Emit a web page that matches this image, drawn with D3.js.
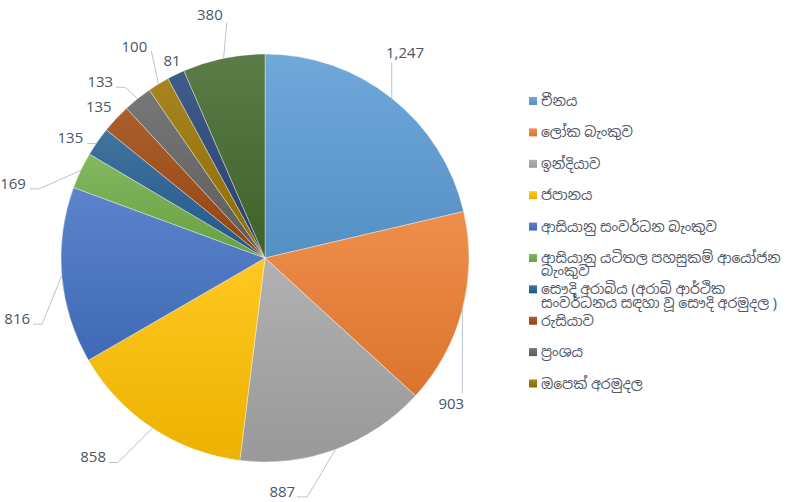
<!DOCTYPE html>
<meta charset="utf-8">
<script src="https://d3js.org/d3.v7.min.js"></script>
<style>
  body { margin: 0; background: #fff; }
</style>
<div id="d3chart"></div>
<script>
    // legend labels (only the first ten appear in the legend)
    var categories = ["චීනය", "ලෝක බැංකුව", "ඉන්දියාව", "ජපානය",
        "ආසියානු සංවර්ධන බැංකුව", "ආසියානු යටිතල පහසුකම් ආයෝජන බැංකුව",
        "සෞදි අරාබිය (අරාබි ආර්ථික සංවර්ධනය සඳහා වූ සෞදි අරමුදල )",
        "රුසියාව", "ප්‍රංශය", "ඔපෙක් අරමුදල"];
    // words kept on the first legend line (0 = no wrap)
    var legendBreaks = [0, 0, 0, 0, 0, 4, 4, 0, 0, 0];
    // slice values, clockwise from 12 o'clock
    var values = [1247, 903, 887, 858, 816, 169, 135, 135, 133, 100, 81, 380];
    var colors = ["#5B9BD5", "#ED7D31", "#A5A5A5", "#FFC000", "#4472C4", "#70AD47",
        "#255E91", "#9E480E", "#636363", "#997300", "#264478", "#43682B"];

    // label placement relative to the slice edge: [dx, dy, anchor, leader]
    var labelLayout = [
        [13.3, -39.8, "middle", [-13.3, 4, 0]],
        [-11.1, 99.6, "middle", [11.1, -16, 0]],
        [-40.4, 47.5, "end", [2, 0, 10]],
        [-46.4, 34.4, "end", [3, 0, 9]],
        [-31.7, 48.6, "end", [3, 0, 9]],
        [-54.8, 18.5, "end", [4, 0, 9]],
        [-14.2, 1.8, "end", [4, 0, 9]],
        [-4.4, -6.8, "end", null],
        [-24.4, -11.4, "end", [3, 0, 9]],
        [-11.2, -32.3, "end", [4, -1, 0]],
        [-3.9, -8.5, "middle", null],
        [-0.9, -38.3, "end", [4, 3, 0]]
    ];

    var width = 787, height = 502;
    var cx = 265, cy = 258, radius = 204;

    var svg = d3.select("#d3chart")
        .append("svg")
        .attr("width", width)
        .attr("height", height);

    // vertical gradients, lighter at the top
    var defs = svg.append("defs");
    colors.forEach(function(c, i) {
        var g = defs.append("linearGradient")
            .attr("id", "grad" + i)
            .attr("x1", 0).attr("y1", 0).attr("x2", 0).attr("y2", 1);
        g.append("stop").attr("offset", "0%")
            .attr("stop-color", d3.interpolateRgb(c, "#ffffff")(0.13));
        g.append("stop").attr("offset", "100%")
            .attr("stop-color", d3.color(c).darker(0.22));
    });

    var pie = d3.pie().sort(null).value(function(d) { return d; });
    var arcs = pie(values);
    var arc = d3.arc().innerRadius(0).outerRadius(radius);

    var chart = svg.append("g")
        .attr("transform", "translate(" + cx + "," + cy + ")");

    chart.selectAll("path.slice")
        .data(arcs)
        .enter()
        .append("path")
        .attr("class", "slice")
        .attr("d", arc)
        .attr("fill", function(d, i) { return "url(#grad" + i + ")"; })
        .attr("stroke", "#ffffff")
        .attr("stroke-opacity", 0.6)
        .attr("stroke-width", 0.6);

    // data labels and leader lines
    var fmt = d3.format(",");
    arcs.forEach(function(d, i) {
        var mid = (d.startAngle + d.endAngle) / 2;
        var ex = radius * Math.sin(mid), ey = -radius * Math.cos(mid);
        var L = labelLayout[i];
        var tx = ex + L[0], ty = ey + L[1];
        var lead = L[3];
        if (lead) {
            var px = tx + lead[0], py = ty + lead[1];
            var pts = [[ex, ey]];
            if (lead[2]) pts.push([px + lead[2], py]);
            pts.push([px, py]);
            chart.append("path")
                .attr("d", d3.line()(pts))
                .attr("fill", "none")
                .attr("stroke", "#b8c3d2")
                .attr("stroke-width", 1);
        }
        chart.append("text")
            .attr("x", tx)
            .attr("y", ty)
            .attr("text-anchor", L[2])
            .style("font-family", "'Open Sans', sans-serif")
            .style("font-size", "15px")
            .style("fill", "#4a5568")
            .text(fmt(d.data));
    });

    // legend
    var legend = svg.append("g");
    var rowY = d3.scaleLinear().domain([0, 9]).range([101, 383.5]);

    categories.forEach(function(name, i) {
        var y = rowY(i);
        legend.append("rect")
            .attr("x", 529).attr("y", y - 4)
            .attr("width", 8).attr("height", 8)
            .attr("fill", "url(#grad" + i + ")");
        var t = legend.append("text")
            .attr("x", 541).attr("y", y + 5)
            .style("font-family", "'Noto Sans', 'Noto Sans Sinhala', sans-serif")
            .style("font-size", "14px")
            .style("fill", "#505766");
        var words = name.split(" ");
        var k = legendBreaks[i] || words.length;
        t.append("tspan").attr("x", 541).attr("dy", 0)
            .text(words.slice(0, k).join(" "));
        if (k < words.length) {
            t.append("tspan").attr("x", 541).attr("dy", 13.5)
                .text(words.slice(k).join(" "));
        }
    });
</script>
